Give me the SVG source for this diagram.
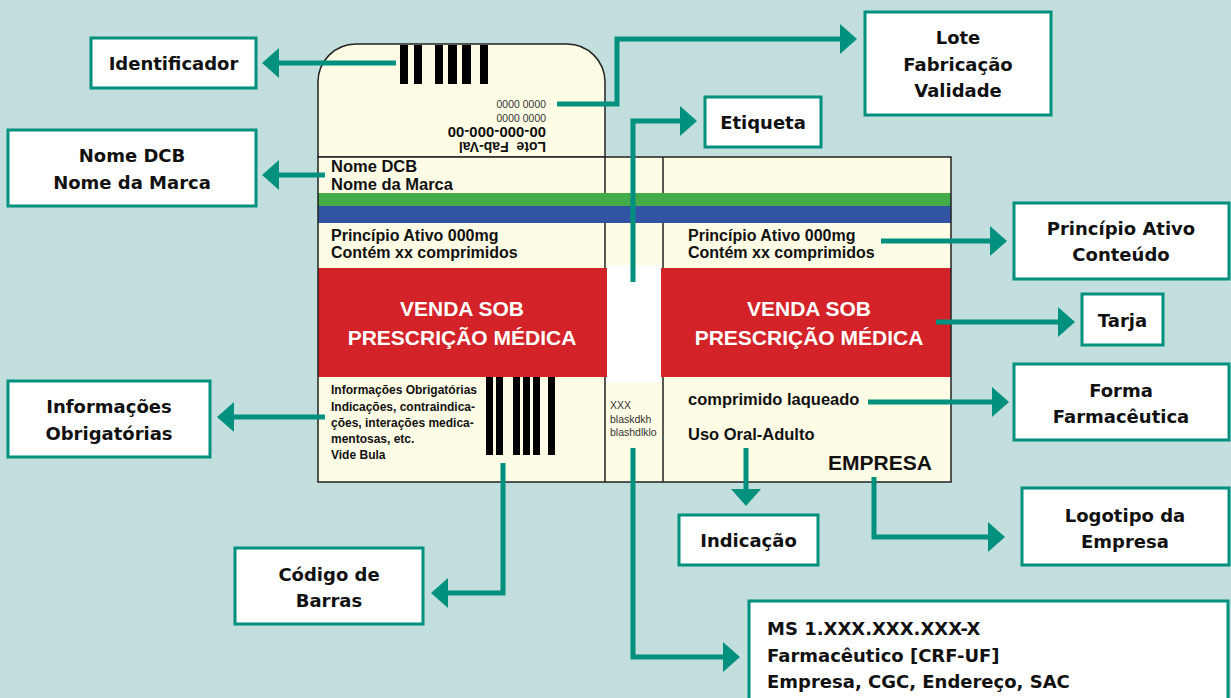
<svg xmlns="http://www.w3.org/2000/svg" width="1231" height="698" viewBox="0 0 1231 698">
<style>
.box{fill:#ffffff;stroke:#00907e;stroke-width:3}
.lbl{font-family:"DejaVu Sans",sans-serif;font-weight:bold;font-size:18px;fill:#111;text-anchor:middle}
.pk{font-family:"Liberation Sans",Arial,sans-serif;font-weight:bold;fill:#111}
.sm{font-family:"Liberation Sans",Arial,sans-serif;fill:#333}
.tarja{font-family:"Liberation Sans",Arial,sans-serif;font-weight:bold;font-size:21px;fill:#ffffff;text-anchor:middle}
.con{fill:none;stroke:#00907e;stroke-width:5;marker-end:url(#ah)}
.bar{fill:#000}
.ln{stroke:#222;stroke-width:1.5;fill:none}
</style>
<defs>
<marker id="ah" viewBox="0 0 17 30" markerWidth="17" markerHeight="30" refX="0" refY="15" orient="auto" markerUnits="userSpaceOnUse">
<path d="M0,0 L17,15 L0,30 z" fill="#00907e"/>
</marker>
</defs>
<rect x="0" y="0" width="1231" height="698" fill="#c2dfdd"/>

<g id="package">
<path d="M318,157 L318,82 A38,38 0 0 1 356,44 L567,44 A38,38 0 0 1 605,82 L605,157 Z" fill="#fffce6" stroke="#222" stroke-width="1.5"/>
<rect x="318" y="157" width="633" height="325" fill="#fffce6"/>
<line x1="605" y1="157" x2="605" y2="482" class="ln"/>
<line x1="663" y1="157" x2="663" y2="482" class="ln"/>
<rect x="318" y="193" width="633" height="13" fill="#43ac49"/>
<rect x="318" y="206" width="633" height="17" fill="#3254a5"/>
<rect x="318" y="268" width="289" height="109" fill="#d42229"/>
<rect x="661" y="268" width="290" height="109" fill="#d42229"/>
<rect x="607" y="265" width="54" height="118" fill="#ffffff"/>
<rect x="318" y="157" width="633" height="325" class="ln"/>
<g class="bar">
<rect x="400" y="45" width="8" height="39"/><rect x="414" y="45" width="8" height="39"/><rect x="435" y="45" width="8" height="39"/><rect x="448" y="45" width="9" height="39"/><rect x="462" y="45" width="9" height="39"/><rect x="480" y="45" width="8" height="39"/>
<rect x="486" y="377" width="7" height="78"/><rect x="496" y="377" width="7" height="78"/><rect x="513" y="377" width="7" height="78"/><rect x="523" y="377" width="7" height="78"/><rect x="533" y="377" width="7" height="78"/><rect x="548" y="377" width="7" height="78"/>
</g>
<text class="sm" font-size="10.5" transform="translate(546,100) rotate(180)">0000 0000</text>
<text class="sm" font-size="10.5" transform="translate(546,114) rotate(180)">0000 0000</text>
<text class="pk" font-size="15" transform="translate(546,127) rotate(180)">00-000-000-00</text>
<text class="pk" font-size="14" transform="translate(546,142) rotate(180)" style="white-space:pre">Lote  Fab-Val</text>
<text class="pk" font-size="16.5" x="331" y="171.5">Nome DCB</text>
<text class="pk" font-size="16.5" x="331" y="190">Nome da Marca</text>
<text class="pk" font-size="16" x="331" y="241">Princípio Ativo 000mg</text>
<text class="pk" font-size="16" x="331" y="258">Contém xx comprimidos</text>
<text class="pk" font-size="16" x="688" y="241">Princípio Ativo 000mg</text>
<text class="pk" font-size="16" x="688" y="258">Contém xx comprimidos</text>
<text class="tarja" x="462" y="316">VENDA SOB</text>
<text class="tarja" x="462" y="345">PRESCRIÇÃO MÉDICA</text>
<text class="tarja" x="809" y="316">VENDA SOB</text>
<text class="tarja" x="809" y="345">PRESCRIÇÃO MÉDICA</text>
<text class="pk" font-size="12" x="331" y="394">Informações Obrigatórias</text>
<text class="pk" font-size="12" x="331" y="410.5">Indicações, contraindica-</text>
<text class="pk" font-size="12" x="331" y="426.5">ções, interações medica-</text>
<text class="pk" font-size="12" x="331" y="442.5">mentosas, etc.</text>
<text class="pk" font-size="12" x="331" y="458.5">Vide Bula</text>
<text class="sm" font-size="10.5" x="610" y="408.5">XXX</text>
<text class="sm" font-size="10.5" x="610" y="422.5">blaskdkh</text>
<text class="sm" font-size="10.5" x="610" y="436">blashdlklo</text>
<text class="pk" font-size="16.5" x="688" y="405">comprimido laqueado</text>
<text class="pk" font-size="16.5" x="688" y="440">Uso Oral-Adulto</text>
<text class="pk" font-size="21" x="828" y="470">EMPRESA</text>
</g>

<g id="identificador"><rect class="box" x="91" y="38" width="165" height="50"/><text class="lbl" x="173.5" y="70">Identificador</text></g>
<g id="nome"><rect class="box" x="8" y="130" width="248" height="76"/><text class="lbl" x="132" y="162">Nome DCB</text><text class="lbl" x="132" y="189">Nome da Marca</text></g>
<g id="lote"><rect class="box" x="865" y="12" width="186" height="103"/><text class="lbl" x="958" y="44">Lote</text><text class="lbl" x="958" y="71">Fabricação</text><text class="lbl" x="958" y="97">Validade</text></g>
<g id="etiqueta"><rect class="box" x="705" y="97" width="116" height="50"/><text class="lbl" x="763" y="129">Etiqueta</text></g>
<g id="principio"><rect class="box" x="1014" y="203" width="215" height="76"/><text class="lbl" x="1121" y="235">Princípio Ativo</text><text class="lbl" x="1121" y="261">Conteúdo</text></g>
<g id="tarja"><rect class="box" x="1082" y="294" width="81" height="51"/><text class="lbl" x="1122.5" y="327">Tarja</text></g>
<g id="forma"><rect class="box" x="1014" y="364" width="215" height="76"/><text class="lbl" x="1121" y="397">Forma</text><text class="lbl" x="1121" y="423">Farmacêutica</text></g>
<g id="logotipo"><rect class="box" x="1022" y="488" width="207" height="77"/><text class="lbl" x="1125" y="522">Logotipo da</text><text class="lbl" x="1125" y="548">Empresa</text></g>
<g id="indicacao"><rect class="box" x="679" y="515" width="139" height="50"/><text class="lbl" x="748.5" y="547">Indicação</text></g>
<g id="codigo"><rect class="box" x="235" y="548" width="188" height="76"/><text class="lbl" x="329" y="581">Código de</text><text class="lbl" x="329" y="607">Barras</text></g>
<g id="informacoes"><rect class="box" x="8" y="381" width="202" height="76"/><text class="lbl" x="109" y="413">Informações</text><text class="lbl" x="109" y="440">Obrigatórias</text></g>
<g id="ms"><rect class="box" x="749" y="601" width="479" height="100"/>
<text class="lbl" style="text-anchor:start" x="767" y="635">MS 1.XXX.XXX.XXX-X</text>
<text class="lbl" style="text-anchor:start" x="767" y="662">Farmacêutico [CRF-UF]</text>
<text class="lbl" style="text-anchor:start" x="767" y="688">Empresa, CGC, Endereço, SAC</text></g>

<g id="connectors">
<path class="con" d="M396,63 L279,63"/>
<path class="con" d="M325,175 L279,175"/>
<path class="con" d="M557,104 L617,104 L617,39 L840,39"/>
<path class="con" d="M633,282 L633,121 L680,121"/>
<path class="con" d="M881,241 L990,241"/>
<path class="con" d="M936,322 L1058,322"/>
<path class="con" d="M868,402 L992,402"/>
<path class="con" d="M874,477 L874,537 L988,537"/>
<path class="con" d="M746,448 L746,489"/>
<path class="con" d="M503,463 L503,593 L448,593"/>
<path class="con" d="M325,417 L234,417"/>
<path class="con" d="M633,448 L633,657 L723,657"/>
</g>
</svg>
